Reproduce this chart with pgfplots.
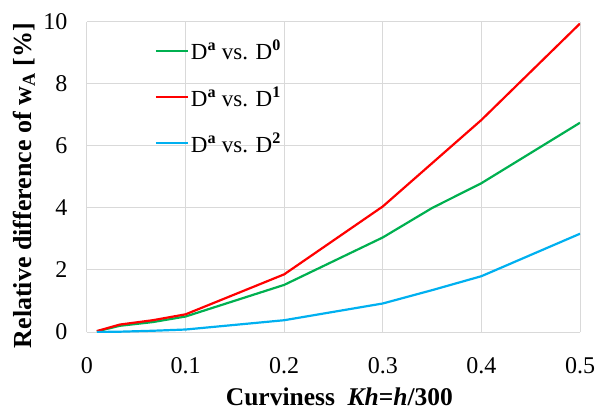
\documentclass[border=0pt]{standalone}
\usepackage{pgfplots}
\pgfplotsset{compat=1.18}
\usepackage{fontspec}
\setmainfont{Liberation Serif}
\newfontfamily\tnr{Liberation Serif}
\definecolor{cgreen}{RGB}{0,176,80}
\definecolor{cred}{RGB}{255,0,0}
\definecolor{cblue}{RGB}{0,176,240}
\definecolor{cgrid}{RGB}{217,217,217}
\begin{document}
\begin{tikzpicture}
\begin{axis}[
  name=ax,
  scale only axis,
  width=493pt, height=310pt,
  xmin=0, xmax=0.5, ymin=0, ymax=10,
  xtick={0,0.1,0.2,0.3,0.4,0.5},
  ytick={0,2,4,6,8,10},
  xticklabels={0,0.1,0.2,0.3,0.4,0.5},
  yticklabels={0,2,4,6,8,10},
  /pgf/number format/assume math mode=true,
  tick style={draw=none},
  grid=major,
  major grid style={cgrid, line width=1pt},
  axis line style={cgrid, line width=1pt},
  axis lines*=left,
  ticklabel style={font=\tnr\fontsize{24}{27}\selectfont},
  xticklabel style={yshift=-22pt},
  yticklabel style={xshift=-16pt},
  xlabel={\textbf{Curviness\ \ \textit{Kh}=\textit{h}/300}},
  ylabel={\textbf{Relative difference of w\textsubscript{A} [\%]}},
  xlabel style={font=\tnr\fontsize{25.5}{28}\selectfont, at={(axis description cs:0.512,-0.21)}, anchor=center},
  ylabel style={font=\tnr\fontsize{26}{29}\selectfont, at={(axis description cs:-0.128,0.472)}, anchor=center},
  legend style={draw=none, fill=none, at={(0.131,0.955)}, anchor=north west,
    font=\tnr\fontsize{23}{26}\selectfont, row sep=21pt},
  legend cell align=left,
  legend image code/.code={\draw[#1, line width=2.2pt] (0pt,0pt) -- (32pt,0pt);},
]
\addplot[cgreen, line width=2.2pt] coordinates {
(0.01,0.02) (0.0333,0.20) (0.0667,0.32) (0.1,0.50) (0.2,1.52) (0.3,3.05) (0.35,4.0) (0.4,4.80) (0.5,6.75)};
\addlegendentry{D\textsuperscript{\textbf{a}} vs. D\textsuperscript{\textbf{0}}}
\addplot[cred, line width=2.2pt] coordinates {
(0.01,0.03) (0.0333,0.24) (0.0667,0.38) (0.1,0.57) (0.2,1.86) (0.3,4.05) (0.4,6.84) (0.5,9.95)};
\addlegendentry{D\textsuperscript{\textbf{a}} vs. D\textsuperscript{\textbf{1}}}
\addplot[cblue, line width=2.2pt] coordinates {
(0.01,0.0) (0.0333,0.01) (0.0667,0.04) (0.1,0.08) (0.2,0.38) (0.3,0.92) (0.35,1.35) (0.4,1.80) (0.5,3.17)};
\addlegendentry{D\textsuperscript{\textbf{a}} vs. D\textsuperscript{\textbf{2}}}
\end{axis}
\pgfresetboundingbox
\useasboundingbox ([xshift=-87pt,yshift=-80pt]ax.south west) rectangle ([xshift=17pt,yshift=22pt]ax.north east);
\end{tikzpicture}
\end{document}
